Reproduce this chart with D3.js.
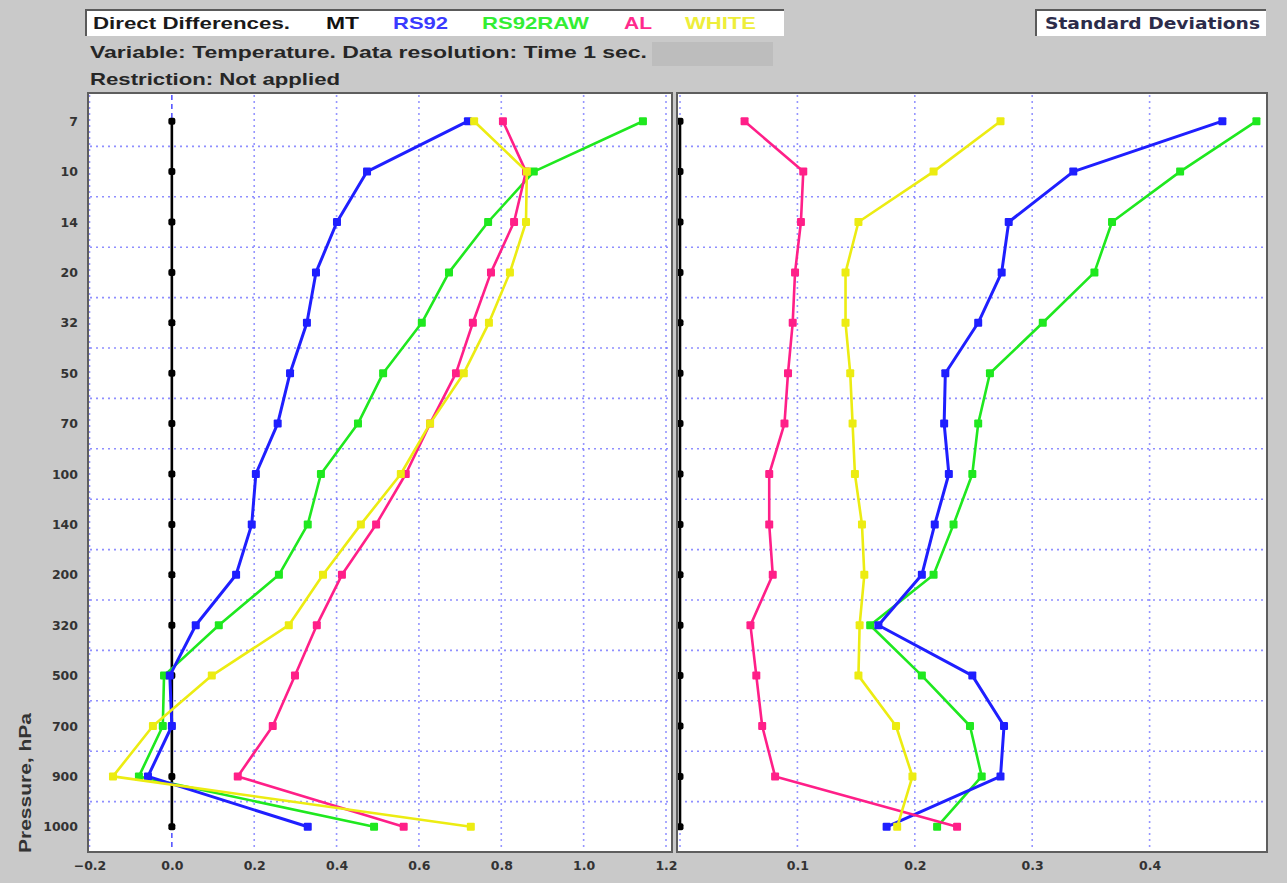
<!DOCTYPE html>
<html>
<head>
<meta charset="utf-8">
<script src="https://cdn.jsdelivr.net/npm/d3@7"></script>
<style>
  html, body { margin: 0; padding: 0; background: #c9c9c9; }
  svg { display: block; }
  text { font-family: "Liberation Sans", Arial, sans-serif; }
</style>
</head>
<body>
<svg id="chart" width="1287" height="883"></svg>
<script>
// Pressure levels (hPa), top to bottom
const levels = ["7", "10", "14", "20", "32", "50", "70", "100", "140", "200", "320", "500", "700", "900", "1000"];

// Mean differences (K) against MT
const diffMT      = [0, 0, 0, 0, 0, 0, 0, 0, 0, 0, 0, 0, 0, 0, 0];
const diffRS92    = [0.719, 0.474, 0.401, 0.350, 0.328, 0.287, 0.257, 0.204, 0.194, 0.156, 0.058, -0.005, 0.000, -0.058, 0.330];
const diffRS92RAW = [1.144, 0.879, 0.768, 0.673, 0.607, 0.513, 0.452, 0.362, 0.330, 0.260, 0.114, -0.019, -0.022, -0.080, 0.491];
const diffAL      = [0.804, 0.860, 0.831, 0.775, 0.731, 0.690, 0.627, 0.568, 0.496, 0.413, 0.352, 0.299, 0.245, 0.160, 0.563];
const diffWHITE   = [0.734, 0.862, 0.860, 0.821, 0.770, 0.709, 0.627, 0.556, 0.459, 0.367, 0.284, 0.097, -0.046, -0.143, 0.726];

// Standard deviations (K)
const sdMT      = [0, 0, 0, 0, 0, 0, 0, 0, 0, 0, 0, 0, 0, 0, 0];
const sdRS92    = [0.462, 0.335, 0.280, 0.274, 0.254, 0.226, 0.225, 0.229, 0.217, 0.206, 0.169, 0.249, 0.276, 0.273, 0.176];
const sdRS92RAW = [0.491, 0.426, 0.368, 0.353, 0.309, 0.264, 0.254, 0.249, 0.233, 0.216, 0.162, 0.206, 0.247, 0.257, 0.219];
const sdAL      = [0.055, 0.105, 0.103, 0.098, 0.096, 0.092, 0.089, 0.076, 0.076, 0.079, 0.060, 0.065, 0.070, 0.081, 0.236];
const sdWHITE   = [0.273, 0.216, 0.152, 0.141, 0.141, 0.145, 0.147, 0.149, 0.155, 0.157, 0.153, 0.152, 0.184, 0.198, 0.185];

// Axis tick values
const diffTicks = [-0.2, 0.0, 0.2, 0.4, 0.6, 0.8, 1.0, 1.2];
const sdTicks = [0.1, 0.2, 0.3, 0.4];
const sdGrid = [0, 0.1, 0.2, 0.3, 0.4, 0.5];

const seriesNames = ["MT", "RS92", "RS92RAW", "AL", "WHITE"];
const lineColors = { MT: "#000000", RS92: "#1f1fff", RS92RAW: "#1fe81f", AL: "#ff1f88", WHITE: "#ecec12" };
const legendColors = { MT: "#111111", RS92: "#3a3aff", RS92RAW: "#33ee33", AL: "#ff2a8c", WHITE: "#eeee3a" };
// drawing order (later on top)
const drawOrder = ["MT", "RS92RAW", "RS92", "AL", "WHITE"];

const diffData = { MT: diffMT, RS92: diffRS92, RS92RAW: diffRS92RAW, AL: diffAL, WHITE: diffWHITE };
const sdData = { MT: sdMT, RS92: sdRS92, RS92RAW: sdRS92RAW, AL: sdAL, WHITE: sdWHITE };

const svg = d3.select("#chart");

// shared vertical scale: one band per pressure level
const y = d3.scaleBand().domain(levels).range([96, 852]).padding(0);
const yc = l => y(l) + y.bandwidth() / 2;

const panels = [
  { frame: [88, 93, 672, 852], x: d3.scaleLinear().domain([-0.2, 1.2]).range([89.5, 666]),
    data: diffData, gridX: diffTicks, ticks: diffTicks, fmt: d3.format(".1f") },
  { frame: [677, 93, 1267, 852], x: d3.scaleLinear().domain([0, 0.5]).range([680, 1267]),
    data: sdData, gridX: sdGrid, ticks: sdTicks, fmt: d3.format(".1f") }
];

panels.forEach((p, pi) => {
  const [x0, y0, x1, y1] = p.frame;
  const g = svg.append("g");
  g.append("rect").attr("x", x0).attr("y", y0).attr("width", x1 - x0).attr("height", y1 - y0)
    .attr("fill", "#ffffff");

  // horizontal grid between levels
  const bounds = levels.slice(1).map(l => y(l));
  g.selectAll("line.hg").data(bounds).join("line")
    .attr("x1", x0 + 2).attr("x2", x1 - 2).attr("y1", d => d).attr("y2", d => d)
    .attr("stroke", "#6a6aff").attr("stroke-width", 1.6).attr("stroke-dasharray", "2,4")
    .attr("opacity", 0.75);

  // vertical grid at ticks
  g.selectAll("line.vg").data(p.gridX).join("line")
    .attr("x1", d => p.x(d)).attr("x2", d => p.x(d)).attr("y1", y0 + 2).attr("y2", y1 - 2)
    .attr("stroke", d => (pi === 0 && d === 0) ? "#2a2aff" : "#6a6aff")
    .attr("stroke-width", d => (pi === 0 && d === 0) ? 1.4 : 1.6)
    .attr("stroke-dasharray", d => (pi === 0 && d === 0) ? "5,4" : "2,4")
    .attr("opacity", d => (pi === 0 && d === 0) ? 0.9 : 0.7);

  // series lines and markers
  drawOrder.forEach(name => {
    const vals = p.data[name];
    const pts = levels.map((l, i) => [p.x(vals[i]), yc(l)]);
    g.append("path").datum(pts)
      .attr("d", d3.line())
      .attr("fill", "none")
      .attr("stroke", lineColors[name])
      .attr("stroke-width", name === "RS92" ? 3 : 2.6)
      .attr("stroke-linejoin", "round");
    const s = name === "MT" ? 7 : 8;
    g.selectAll(null).data(pts).join("rect")
      .attr("x", d => d[0] - s / 2).attr("y", d => d[1] - s / 2)
      .attr("width", s).attr("height", s)
      .attr("rx", name === "MT" ? 2 : 1)
      .attr("fill", lineColors[name]);
  });

  // frame
  g.append("rect").attr("x", x0).attr("y", y0).attr("width", x1 - x0).attr("height", y1 - y0)
    .attr("fill", "none").attr("stroke", "#5e5e5e").attr("stroke-width", 2);

  // bottom tick labels
  const ax = d3.axisBottom(p.x).tickValues(p.ticks).tickFormat(p.fmt).tickSize(0).tickPadding(0);
  const axg = svg.append("g").attr("transform", `translate(0, ${y1 + 9})`).call(ax);
  axg.select(".domain").remove();
  axg.selectAll("text")
    .attr("dy", "0.75em")
    .style("font-family", "'DejaVu Sans', Verdana, sans-serif")
    .style("font-weight", "bold").style("font-size", "12.5px").attr("fill", "#333333");
});

// pressure level labels
const ay = d3.axisLeft(d3.scalePoint().domain(levels).range([yc(levels[0]), yc(levels[levels.length - 1])]))
  .tickSize(0).tickPadding(0);
const ayg = svg.append("g").attr("transform", "translate(78, 0)").call(ay);
ayg.select(".domain").remove();
ayg.selectAll("text")
  .style("font-family", "'DejaVu Sans', Verdana, sans-serif")
  .style("font-weight", "bold").style("font-size", "12.5px").attr("fill", "#333333");

// axis title
svg.append("text")
  .attr("transform", "translate(31, 853) rotate(-90)")
  .attr("text-anchor", "start")
  .attr("textLength", 140).attr("lengthAdjust", "spacingAndGlyphs")
  .style("font-weight", "bold").style("font-size", "17px").attr("fill", "#333333")
  .text("Pressure, hPa");

// header box with legend
function sunkenBox(x, y0, w, h) {
  svg.append("rect").attr("x", x).attr("y", y0).attr("width", w).attr("height", h).attr("fill", "#ffffff");
  svg.append("path").attr("d", `M${x},${y0 + h} V${y0} H${x + w}`)
    .attr("fill", "none").attr("stroke", "#5a5a5a").attr("stroke-width", 2);
}
sunkenBox(86, 10, 698, 26);
sunkenBox(1036, 10, 230, 26);

const headerItems = [
  { text: "Direct Differences.", x: 93, w: 197, color: "#1a1a1a" },
  { text: "MT", x: 326, w: 33, color: legendColors.MT },
  { text: "RS92", x: 393, w: 55, color: legendColors.RS92 },
  { text: "RS92RAW", x: 482, w: 107, color: legendColors.RS92RAW },
  { text: "AL", x: 624, w: 28, color: legendColors.AL },
  { text: "WHITE", x: 685, w: 71, color: legendColors.WHITE }
];
svg.selectAll("text.hdr").data(headerItems).join("text")
  .attr("x", d => d.x).attr("y", 29)
  .attr("textLength", d => d.w).attr("lengthAdjust", "spacingAndGlyphs")
  .style("font-weight", "bold").style("font-size", "17px")
  .attr("fill", d => d.color)
  .text(d => d.text);

svg.append("text").attr("x", 1045).attr("y", 29)
  .attr("textLength", 215).attr("lengthAdjust", "spacingAndGlyphs")
  .style("font-family", "'DejaVu Sans', Verdana, sans-serif")
  .style("font-weight", "bold").style("font-size", "16px").attr("fill", "#2c2c4a")
  .text("Standard Deviations");

svg.append("text").attr("x", 90).attr("y", 58)
  .attr("textLength", 557).attr("lengthAdjust", "spacingAndGlyphs")
  .style("font-weight", "bold").style("font-size", "17px").attr("fill", "#262626")
  .text("Variable: Temperature. Data resolution: Time 1 sec.");

svg.append("rect").attr("x", 652).attr("y", 42).attr("width", 121).attr("height", 24).attr("fill", "#bdbdbd");

svg.append("text").attr("x", 90).attr("y", 85)
  .attr("textLength", 250).attr("lengthAdjust", "spacingAndGlyphs")
  .style("font-weight", "bold").style("font-size", "17px").attr("fill", "#262626")
  .text("Restriction: Not applied");
</script>
</body>
</html>
